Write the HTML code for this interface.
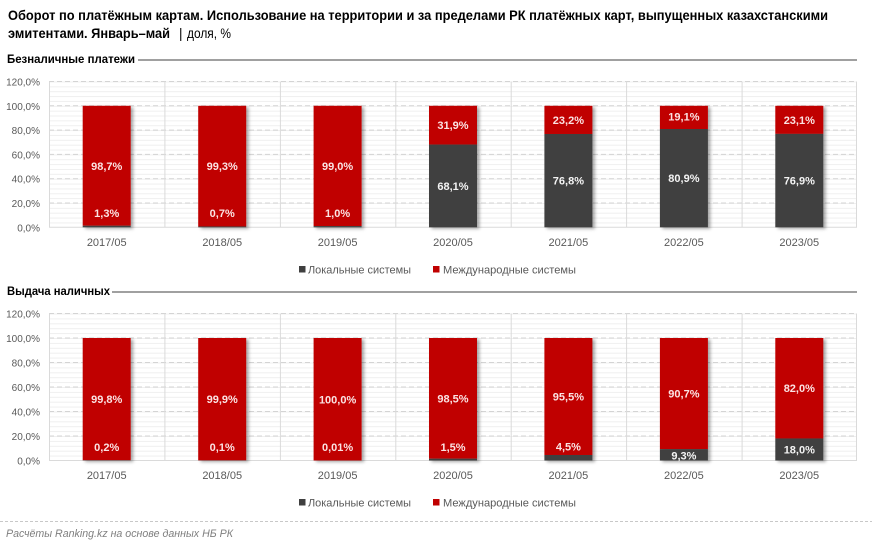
<!DOCTYPE html>
<html><head><meta charset="utf-8">
<style>
html,body{margin:0;padding:0;background:#fff;}
svg{display:block;}
text{font-family:"Liberation Sans","DejaVu Sans",sans-serif;}
.yl{font-size:10px;fill:#595959;text-anchor:end;}
.xl{font-size:11px;fill:#595959;text-anchor:middle;}
.lr{font-size:11px;font-weight:bold;fill:#fbe3e3;text-anchor:middle;}
.ld{font-size:11px;font-weight:bold;fill:#f4f4f4;text-anchor:middle;}
.lg{font-size:11px;fill:#595959;}
.maj{stroke:#d4d4d4;stroke-width:1;stroke-dasharray:5,3;}
.vg{stroke:#dadada;stroke-width:1;}
.red{fill:#c00000;}
.dk{fill:#3f3f3f;}
</style></head>
<body>
<svg width="872" height="545" viewBox="0 0 872 545" xmlns="http://www.w3.org/2000/svg">
<defs>
<filter id="sh" x="-20%" y="-5%" width="150%" height="115%">
<feDropShadow dx="2.5" dy="1.5" stdDeviation="1.5" flood-color="#000" flood-opacity="0.35"/>
</filter>
<pattern id="minT" patternUnits="userSpaceOnUse" x="0" y="81.5" width="10" height="4.86">
<line x1="0" y1="0.5" x2="10" y2="0.5" stroke="#efefef" stroke-width="1"/>
</pattern>
<pattern id="minB" patternUnits="userSpaceOnUse" x="0" y="313.5" width="10" height="4.9">
<line x1="0" y1="0.5" x2="10" y2="0.5" stroke="#efefef" stroke-width="1"/>
</pattern>
</defs>

<!-- Title -->
<text x="8" y="20" font-size="13.5" font-weight="bold" fill="#000" textLength="820" lengthAdjust="spacingAndGlyphs">Оборот по платёжным картам. Использование на территории и за пределами РК платёжных карт, выпущенных казахстанскими</text>
<text x="8" y="38" font-size="13.5" fill="#000"><tspan font-weight="bold" textLength="162" lengthAdjust="spacingAndGlyphs">эмитентами. Январь–май</tspan></text>
<text x="179" y="38" font-size="13.5" fill="#000">|</text>
<text x="187" y="38" font-size="13.5" fill="#000" textLength="44" lengthAdjust="spacingAndGlyphs">доля, %</text>

<!-- Section 1 title -->
<text x="7" y="63" font-size="11.5" font-weight="bold" fill="#000" textLength="128" lengthAdjust="spacingAndGlyphs">Безналичные платежи</text>
<line x1="138" y1="60" x2="857" y2="60" stroke="#404040" stroke-width="1"/>

<!-- Top chart grid -->
<rect x="49" y="81.5" width="808" height="145.8" fill="url(#minT)"/>
<g class="maj">
<line x1="49" y1="81.5" x2="857" y2="81.5"/>
<line x1="49" y1="105.8" x2="857" y2="105.8"/>
<line x1="49" y1="130.1" x2="857" y2="130.1"/>
<line x1="49" y1="154.4" x2="857" y2="154.4"/>
<line x1="49" y1="178.7" x2="857" y2="178.7"/>
<line x1="49" y1="203.0" x2="857" y2="203.0"/>
</g>
<g class="vg">
<line x1="49.5" y1="81.5" x2="49.5" y2="227.3"/>
<line x1="164.9" y1="81.5" x2="164.9" y2="227.3"/>
<line x1="280.4" y1="81.5" x2="280.4" y2="227.3"/>
<line x1="395.8" y1="81.5" x2="395.8" y2="227.3"/>
<line x1="511.2" y1="81.5" x2="511.2" y2="227.3"/>
<line x1="626.6" y1="81.5" x2="626.6" y2="227.3"/>
<line x1="742.1" y1="81.5" x2="742.1" y2="227.3"/>
<line x1="856.5" y1="81.5" x2="856.5" y2="227.3"/>
<line x1="49" y1="227.3" x2="857" y2="227.3"/>
</g>
<g>
<text class="yl" x="40" y="85.5">120,0%</text>
<text class="yl" x="40" y="109.8">100,0%</text>
<text class="yl" x="40" y="134.1">80,0%</text>
<text class="yl" x="40" y="158.4">60,0%</text>
<text class="yl" x="40" y="182.7">40,0%</text>
<text class="yl" x="40" y="207.0">20,0%</text>
<text class="yl" x="40" y="231.3">0,0%</text>
</g>

<!-- Top bars -->
<g filter="url(#sh)">
<rect class="red" x="82.7" y="105.8" width="48" height="119.92"/><rect class="dk" x="82.7" y="225.72" width="48" height="1.58"/>
<rect class="red" x="198.2" y="105.8" width="48" height="120.65"/><rect class="dk" x="198.2" y="226.45" width="48" height="0.85"/>
<rect class="red" x="313.6" y="105.8" width="48" height="120.28"/><rect class="dk" x="313.6" y="226.08" width="48" height="1.22"/>
<rect class="red" x="429.0" y="105.8" width="48" height="38.76"/><rect class="dk" x="429.0" y="144.56" width="48" height="82.74"/>
<rect class="red" x="544.4" y="105.8" width="48" height="28.19"/><rect class="dk" x="544.4" y="133.99" width="48" height="93.31"/>
<rect class="red" x="659.9" y="105.8" width="48" height="23.21"/><rect class="dk" x="659.9" y="129.01" width="48" height="98.29"/>
<rect class="red" x="775.3" y="105.8" width="48" height="28.07"/><rect class="dk" x="775.3" y="133.87" width="48" height="93.43"/>
</g>
<g>
<text class="lr" x="106.7" y="169.8">98,7%</text><text class="lr" x="106.7" y="217">1,3%</text>
<text class="lr" x="222.2" y="170.1">99,3%</text><text class="lr" x="222.2" y="217">0,7%</text>
<text class="lr" x="337.6" y="169.9">99,0%</text><text class="lr" x="337.6" y="217">1,0%</text>
<text class="lr" x="453.0" y="129.2">31,9%</text><text class="ld" x="453.0" y="190">68,1%</text>
<text class="lr" x="568.4" y="123.9">23,2%</text><text class="ld" x="568.4" y="184.6">76,8%</text>
<text class="lr" x="683.9" y="120.4">19,1%</text><text class="ld" x="683.9" y="182.2">80,9%</text>
<text class="lr" x="799.3" y="123.8">23,1%</text><text class="ld" x="799.3" y="184.6">76,9%</text>
</g>
<g>
<text class="xl" x="106.7" y="246">2017/05</text>
<text class="xl" x="222.2" y="246">2018/05</text>
<text class="xl" x="337.6" y="246">2019/05</text>
<text class="xl" x="453.0" y="246">2020/05</text>
<text class="xl" x="568.4" y="246">2021/05</text>
<text class="xl" x="683.9" y="246">2022/05</text>
<text class="xl" x="799.3" y="246">2023/05</text>
</g>
<!-- Top legend -->
<rect x="299" y="266" width="6.5" height="6.5" fill="#3f3f3f"/>
<text class="lg" x="308" y="273.5" textLength="103" lengthAdjust="spacingAndGlyphs">Локальные системы</text>
<rect x="433" y="266" width="6.5" height="6.5" fill="#c00000"/>
<text class="lg" x="443" y="273.5" textLength="133" lengthAdjust="spacingAndGlyphs">Международные системы</text>

<!-- Section 2 title -->
<text x="7" y="295" font-size="11.5" font-weight="bold" fill="#000" textLength="103" lengthAdjust="spacingAndGlyphs">Выдача наличных</text>
<line x1="112" y1="292" x2="857" y2="292" stroke="#404040" stroke-width="1"/>

<!-- Bottom chart grid -->
<rect x="49" y="313.5" width="808" height="147" fill="url(#minB)"/>
<g class="maj">
<line x1="49" y1="313.5" x2="857" y2="313.5"/>
<line x1="49" y1="338.0" x2="857" y2="338.0"/>
<line x1="49" y1="362.5" x2="857" y2="362.5"/>
<line x1="49" y1="387.0" x2="857" y2="387.0"/>
<line x1="49" y1="411.5" x2="857" y2="411.5"/>
<line x1="49" y1="436.0" x2="857" y2="436.0"/>
</g>
<g class="vg">
<line x1="49.5" y1="313.5" x2="49.5" y2="460.5"/>
<line x1="164.9" y1="313.5" x2="164.9" y2="460.5"/>
<line x1="280.4" y1="313.5" x2="280.4" y2="460.5"/>
<line x1="395.8" y1="313.5" x2="395.8" y2="460.5"/>
<line x1="511.2" y1="313.5" x2="511.2" y2="460.5"/>
<line x1="626.6" y1="313.5" x2="626.6" y2="460.5"/>
<line x1="742.1" y1="313.5" x2="742.1" y2="460.5"/>
<line x1="856.5" y1="313.5" x2="856.5" y2="460.5"/>
<line x1="49" y1="460.5" x2="857" y2="460.5"/>
</g>
<g>
<text class="yl" x="40" y="317.5">120,0%</text>
<text class="yl" x="40" y="342.0">100,0%</text>
<text class="yl" x="40" y="366.5">80,0%</text>
<text class="yl" x="40" y="391.0">60,0%</text>
<text class="yl" x="40" y="415.5">40,0%</text>
<text class="yl" x="40" y="440.0">20,0%</text>
<text class="yl" x="40" y="464.5">0,0%</text>
</g>

<!-- Bottom bars -->
<g filter="url(#sh)">
<rect class="red" x="82.7" y="338" width="48" height="122.26"/><rect class="dk" x="82.7" y="460.26" width="48" height="0.24"/>
<rect class="red" x="198.2" y="338" width="48" height="122.38"/><rect class="dk" x="198.2" y="460.38" width="48" height="0.12"/>
<rect class="red" x="313.6" y="338" width="48" height="122.5"/>
<rect class="red" x="429.0" y="338" width="48" height="120.66"/><rect class="dk" x="429.0" y="458.66" width="48" height="1.84"/>
<rect class="red" x="544.4" y="338" width="48" height="116.99"/><rect class="dk" x="544.4" y="454.99" width="48" height="5.51"/>
<rect class="red" x="659.9" y="338" width="48" height="111.11"/><rect class="dk" x="659.9" y="449.11" width="48" height="11.39"/>
<rect class="red" x="775.3" y="338" width="48" height="100.45"/><rect class="dk" x="775.3" y="438.45" width="48" height="22.05"/>
</g>
<g>
<text class="lr" x="106.7" y="403.1">99,8%</text><text class="lr" x="106.7" y="451">0,2%</text>
<text class="lr" x="222.2" y="403.2">99,9%</text><text class="lr" x="222.2" y="451">0,1%</text>
<text class="lr" x="337.6" y="403.3">100,0%</text><text class="lr" x="337.6" y="451">0,01%</text>
<text class="lr" x="453.0" y="402.3">98,5%</text><text class="lr" x="453.0" y="451">1,5%</text>
<text class="lr" x="568.4" y="400.5">95,5%</text><text class="lr" x="568.4" y="450.5">4,5%</text>
<text class="lr" x="683.9" y="397.6">90,7%</text><text class="ld" x="683.9" y="459.5">9,3%</text>
<text class="lr" x="799.3" y="392.2">82,0%</text><text class="ld" x="799.3" y="453.5">18,0%</text>
</g>
<g>
<text class="xl" x="106.7" y="479">2017/05</text>
<text class="xl" x="222.2" y="479">2018/05</text>
<text class="xl" x="337.6" y="479">2019/05</text>
<text class="xl" x="453.0" y="479">2020/05</text>
<text class="xl" x="568.4" y="479">2021/05</text>
<text class="xl" x="683.9" y="479">2022/05</text>
<text class="xl" x="799.3" y="479">2023/05</text>
</g>
<!-- Bottom legend -->
<rect x="299" y="499" width="6.5" height="6.5" fill="#3f3f3f"/>
<text class="lg" x="308" y="506.5" textLength="103" lengthAdjust="spacingAndGlyphs">Локальные системы</text>
<rect x="433" y="499" width="6.5" height="6.5" fill="#c00000"/>
<text class="lg" x="443" y="506.5" textLength="133" lengthAdjust="spacingAndGlyphs">Международные системы</text>

<!-- Footer -->
<line x1="0" y1="521.5" x2="872" y2="521.5" stroke="#c8c8c8" stroke-width="1" stroke-dasharray="3,2"/>
<text x="6" y="537" font-size="11" font-style="italic" fill="#7f7f7f" textLength="227" lengthAdjust="spacingAndGlyphs">Расчёты Ranking.kz на основе данных НБ РК</text>
</svg>
</body></html>
